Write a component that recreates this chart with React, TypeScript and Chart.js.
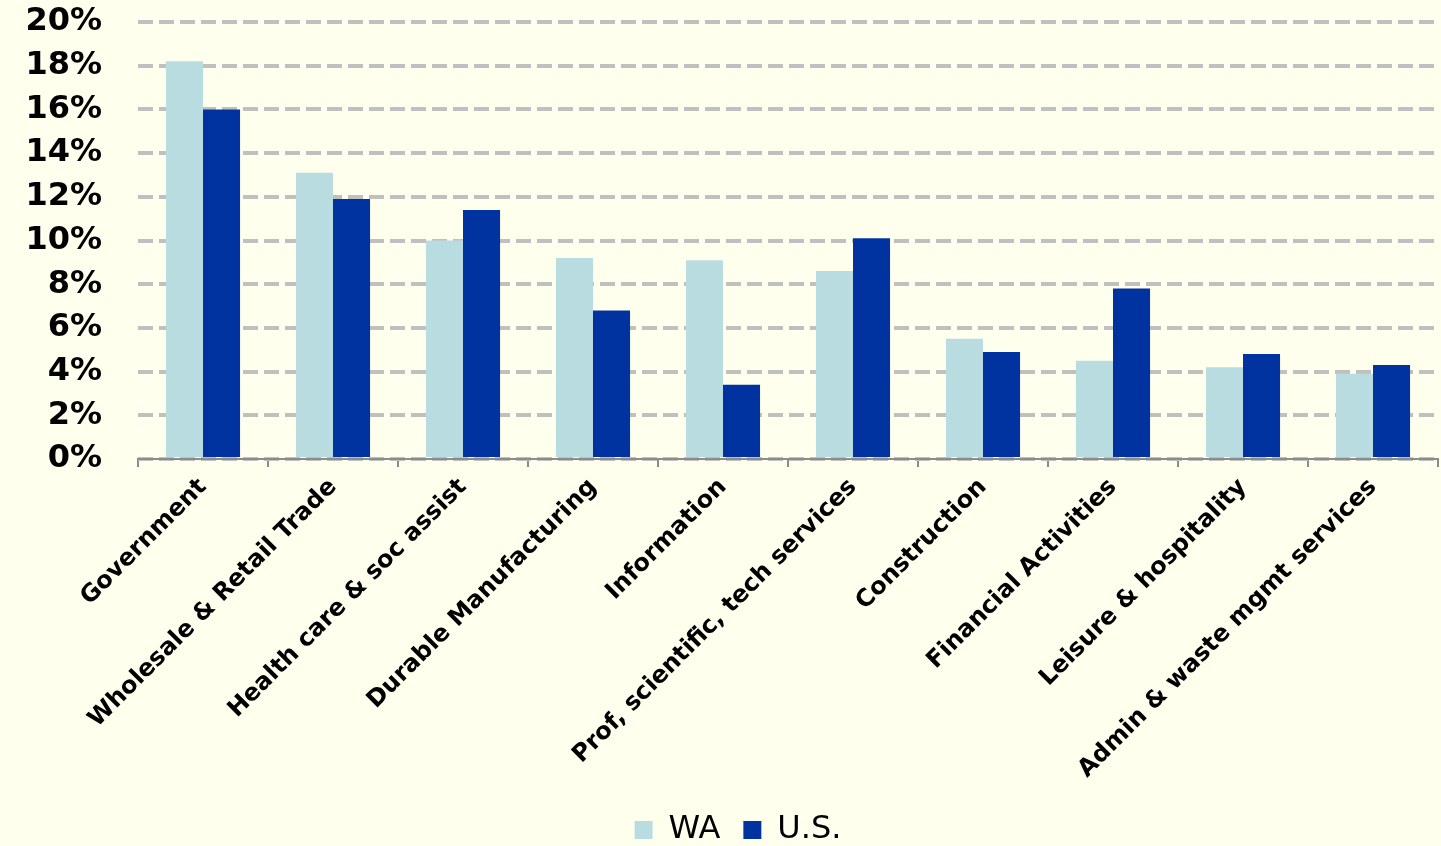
import { useEffect, useRef } from 'react';
import { Chart, registerables } from 'chart.js';

Chart.register(...registerables);

const industries = [
  'Government',
  'Wholesale & Retail Trade',
  'Health care & soc assist',
  'Durable Manufacturing',
  'Information',
  'Prof, scientific, tech services',
  'Construction',
  'Financial Activities',
  'Leisure & hospitality',
  'Admin & waste mgmt services',
];

// Share of total employment, percent
const waShares = [18.2, 13.1, 10.0, 9.2, 9.1, 8.6, 5.5, 4.5, 4.2, 3.9];
const usShares = [16.0, 11.9, 11.4, 6.8, 3.4, 10.1, 4.9, 7.8, 4.8, 4.3];

const yMin = 0;
const yMax = 20;
const yStep = 2;

const WA_COLOR = '#B8DCE0';
const US_COLOR = '#0033A0';
const GRID_COLOR = '#C0C0C0';
const AXIS_COLOR = '#8C8C8C';
const FONT = '"DejaVu Sans", Verdana, sans-serif';

// Nudges the bottom legend to the right so it sits centred under the plot area
const legendShift = {
  id: 'legendShift',
  afterLayout(chart: any) {
    const legend = chart.legend;
    if (!legend) return;
    legend.left += 19;
    legend.right += 19;
  },
};

export default function App() {
  const canvasRef = useRef<HTMLCanvasElement | null>(null);

  useEffect(() => {
    document.body.style.margin = '0';
    const canvas = canvasRef.current;
    if (!canvas) return;

    const chart = new Chart(canvas, {
      type: 'bar',
      data: {
        labels: industries,
        datasets: [
          {
            label: 'WA',
            data: waShares,
            backgroundColor: WA_COLOR,
            borderWidth: 0,
            categoryPercentage: 0.57,
            barPercentage: 1,
          },
          {
            label: 'U.S.',
            data: usShares,
            backgroundColor: US_COLOR,
            borderWidth: 0,
            categoryPercentage: 0.57,
            barPercentage: 1,
          },
        ],
      },
      options: {
        responsive: false,
        animation: false,
        maintainAspectRatio: false,
        layout: { padding: { top: 22, right: 3, bottom: -10, left: 0 } },
        plugins: {
          tooltip: { enabled: false },
          legend: {
            position: 'bottom',
            labels: {
              color: '#000',
              font: { family: FONT, size: 32 },
              boxWidth: 18,
              boxHeight: 18,
              padding: 23,
            },
          },
        },
        scales: {
          x: {
            grid: {
              offset: true,
              drawOnChartArea: false,
              drawTicks: true,
              tickLength: 8,
              color: AXIS_COLOR,
              lineWidth: 2,
            },
            border: { display: true, color: AXIS_COLOR, width: 2 },
            ticks: {
              color: '#000',
              font: { family: FONT, size: 24, weight: 'bold' },
              minRotation: 45,
              maxRotation: 45,
              autoSkip: false,
              padding: 6,
            },
            afterFit: (scale: any) => {
              scale.height = 332;
            },
          },
          y: {
            min: yMin,
            max: yMax,
            grid: {
              drawTicks: false,
              color: GRID_COLOR,
              lineWidth: 4,
            },
            border: { display: false, dash: [15, 6] },
            ticks: {
              stepSize: yStep,
              autoSkip: false,
              color: '#000',
              padding: 36,
              font: { family: FONT, size: 32, weight: 'bold' },
              callback: (v: any) => `${v}%`,
            },
            afterFit: (scale: any) => {
              scale.width = 138;
              scale.paddingTop = 0;
              scale.paddingBottom = 0;
            },
          },
        },
      },
      plugins: [legendShift],
    });

    return () => chart.destroy();
  }, []);

  return (
    <div style={{ width: 1441, height: 846, background: '#FFFFEE' }}>
      <canvas ref={canvasRef} width={1441} height={846} />
    </div>
  );
}
